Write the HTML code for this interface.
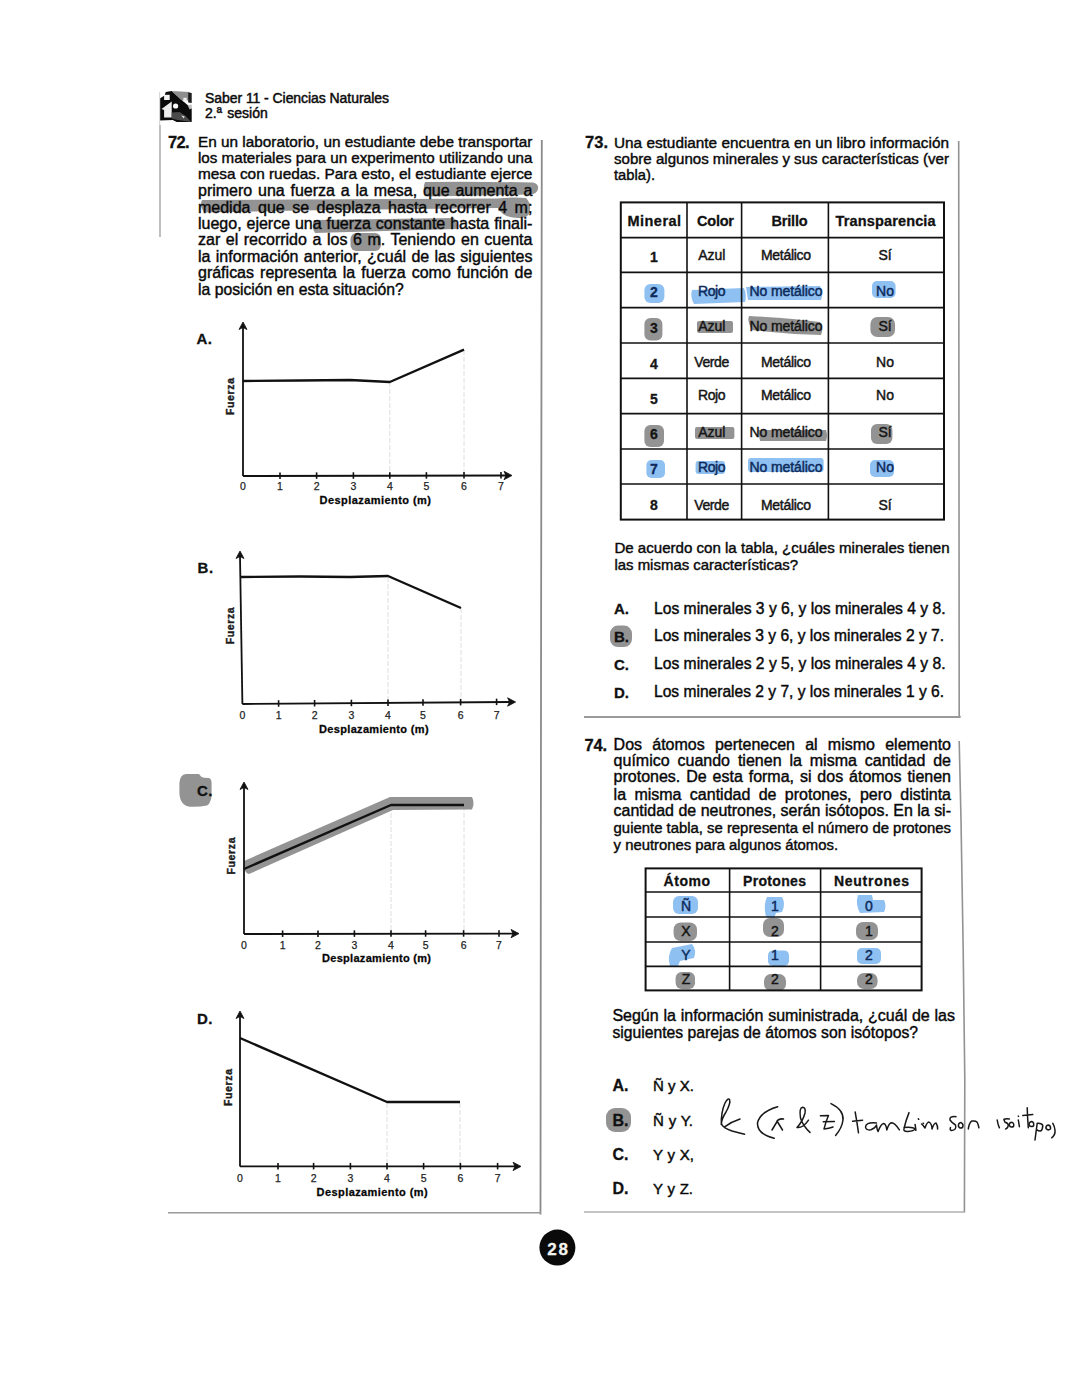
<!DOCTYPE html>
<html lang="es"><head><meta charset="utf-8"><title>Saber 11 - Ciencias Naturales</title>
<style>
html,body{margin:0;padding:0;background:#fff;}
body{width:1080px;height:1397px;overflow:hidden;}
svg{display:block;font-family:"Liberation Sans", sans-serif;}
</style></head><body>
<svg width="1080" height="1397" viewBox="0 0 1080 1397">
<rect width="1080" height="1397" fill="#fff"/>
<g transform="translate(159.7,90.4)"><path d="M0 8 L5 5 L6 1.5 L12 0.5 L22 9.5 L32 18 L32 31.5 L17 31.5 L13 29.5 L0 30 Z" fill="#0b0b0b"/><path d="M12 0.5 L30 1.5 L29 10 L21.5 9.5 Z" fill="#8e8e8e"/><path d="M28.5 2 L32 2.5 L32 12.5 L28.5 12 Z" fill="#1c1c1c"/><rect x="4.4" y="4.4" width="5.6" height="5.2" fill="#f4f4f4"/><path d="M1.8 18.5 L12 11 L12 27 L4.4 27 L4.4 19.5 Z" fill="#eeeeee"/><circle cx="15.9" cy="15.6" r="2.6" fill="#fafafa"/><rect x="23.7" y="7.4" width="3.3" height="3.7" fill="#efefef"/><path d="M28 15 L32 14 L32 18 L30 19 Z" fill="#bdbdbd"/><path d="M12 22 L20 21.5 L26 25.5 L31.5 31.5 L18 29.5 L12 28 Z" fill="#4a4a4a"/><path d="M21.5 25 L25 25.8 L24 28 Z" fill="#dddddd"/></g>
<text x="205" y="103" font-size="14" textLength="184" lengthAdjust="spacing" stroke="#1a1a1a" stroke-width="0.5">Saber 11 - Ciencias Naturales</text>
<text x="205" y="118" font-size="14" word-spacing="1.581" textLength="62.8" lengthAdjust="spacing" stroke="#1a1a1a" stroke-width="0.5">2.ª sesión</text>
<line x1="159.6" y1="92" x2="159.6" y2="125" stroke="#d8d8d8" stroke-width="1.2" />
<line x1="160" y1="125" x2="160" y2="237" stroke="#b0b0b0" stroke-width="1.6" />
<path d="M541.8 140 L541 700 L540.5 1214.5" fill="none" stroke="#8a8a8a" stroke-width="1.8" />
<line x1="168" y1="1212.8" x2="541" y2="1212.8" stroke="#9a9a9a" stroke-width="1.6" />
<path d="M958.7 141 L959.2 716.5 L960.5 716.5" fill="none" stroke="#929292" stroke-width="1.6" />
<line x1="584" y1="717" x2="960.5" y2="717" stroke="#9a9a9a" stroke-width="1.8" />
<path d="M959.2 741 L961 820 L963.2 950 L964.8 1080 L964.4 1212.5" fill="none" stroke="#929292" stroke-width="1.6" />
<line x1="584" y1="1212" x2="964.4" y2="1212" stroke="#b0b0b0" stroke-width="1.4" />
<path d="M425 182 Q480 181.5 533 182.5 Q539 184 538 189 Q537 194 530 194.5 L427 196.5 Q422 189 425 182 Z" fill="#939393" stroke="none" stroke-width="1" />
<path d="M202 200 L300 199.5 L497 198.5 Q510 197 526 198 Q531 203 530 210 Q530 218 518 218 Q503 218 498 208 L300 210.5 L204 212.5 Q199 206 202 200 Z" fill="#939393" stroke="none" stroke-width="1" />
<path d="M314 220 L454 218 Q458 223 456 229 L315 233 Q311 227 314 220 Z" fill="#939393" stroke="none" stroke-width="1" />
<rect x="350.5" y="233" width="30.5" height="18" rx="6" fill="#939393" />
<text x="168" y="147.5" font-size="16.5" font-weight="700" textLength="21.5" lengthAdjust="spacing" fill="#111" stroke="#111" stroke-width="0.3">72.</text>
<text x="198" y="147" font-size="15.34" textLength="334.4" lengthAdjust="spacing" stroke="#1a1a1a" stroke-width="0.45">En un laboratorio, un estudiante debe transportar</text>
<text x="198" y="163" font-size="15.15" textLength="334.4" lengthAdjust="spacing" stroke="#1a1a1a" stroke-width="0.45">los materiales para un experimento utilizando una</text>
<text x="198" y="179" font-size="15.39" textLength="334.4" lengthAdjust="spacing" stroke="#1a1a1a" stroke-width="0.45">mesa con ruedas. Para esto, el estudiante ejerce</text>
<text x="198" y="196" font-size="16" word-spacing="1.331" textLength="334.4" lengthAdjust="spacing" stroke="#1a1a1a" stroke-width="0.45">primero una fuerza a la mesa, que aumenta a</text>
<text x="198" y="213" font-size="16" word-spacing="3.048" textLength="334.4" lengthAdjust="spacing" stroke="#1a1a1a" stroke-width="0.45">medida que se desplaza hasta recorrer 4 m;</text>
<text x="198" y="229" font-size="16" word-spacing="0.439" textLength="334.4" lengthAdjust="spacing" stroke="#1a1a1a" stroke-width="0.45">luego, ejerce una fuerza constante hasta finali-</text>
<text x="198" y="245" font-size="16" word-spacing="1.117" textLength="334.4" lengthAdjust="spacing" stroke="#1a1a1a" stroke-width="0.45">zar el recorrido a los 6 m. Teniendo en cuenta</text>
<text x="198" y="262" font-size="16" word-spacing="0.89" textLength="334.4" lengthAdjust="spacing" stroke="#1a1a1a" stroke-width="0.45">la información anterior, ¿cuál de las siguientes</text>
<text x="198" y="278" font-size="16" word-spacing="1.629" textLength="334.4" lengthAdjust="spacing" stroke="#1a1a1a" stroke-width="0.45">gráficas representa la fuerza como función de</text>
<text x="198" y="295" font-size="15.75" textLength="205.7" lengthAdjust="spacing" stroke="#1a1a1a" stroke-width="0.45">la posición en esta situación?</text>
<line x1="389.8" y1="382" x2="389.8" y2="475" stroke="#dedede" stroke-width="1" stroke-dasharray="5 2"/>
<line x1="464" y1="350" x2="464" y2="475" stroke="#dedede" stroke-width="1" stroke-dasharray="5 2"/>
<line x1="243" y1="327" x2="243" y2="476" stroke="#111" stroke-width="1.8" />
<path d="M239 329.5 L243 322 L247 329.5 L243 327.5 Z" fill="#111" stroke="#111" stroke-width="0.8" stroke-linejoin="round"/>
<line x1="243" y1="476" x2="506" y2="475.5" stroke="#111" stroke-width="1.8" />
<path d="M504 471.3 L512 475.5 L504 479.7 L506 475.5 Z" fill="#111" stroke="#111" stroke-width="0.8" stroke-linejoin="round"/>
<line x1="280" y1="472.43122676579924" x2="280" y2="478.93122676579924" stroke="#111" stroke-width="1.6" />
<line x1="316.6" y1="472.3631970260223" x2="316.6" y2="478.8631970260223" stroke="#111" stroke-width="1.6" />
<line x1="353.4" y1="472.29479553903343" x2="353.4" y2="478.79479553903343" stroke="#111" stroke-width="1.6" />
<line x1="389.8" y1="472.2271375464684" x2="389.8" y2="478.7271375464684" stroke="#111" stroke-width="1.6" />
<line x1="426.4" y1="472.15910780669145" x2="426.4" y2="478.65910780669145" stroke="#111" stroke-width="1.6" />
<line x1="464" y1="472.08921933085503" x2="464" y2="478.58921933085503" stroke="#111" stroke-width="1.6" />
<line x1="501" y1="472.02044609665427" x2="501" y2="478.52044609665427" stroke="#111" stroke-width="1.6" />
<text x="243" y="490" font-size="10.5" text-anchor="middle" fill="#1e1e1e" stroke="#1e1e1e" stroke-width="0.25">0</text>
<text x="280" y="490" font-size="10.5" text-anchor="middle" fill="#1e1e1e" stroke="#1e1e1e" stroke-width="0.25">1</text>
<text x="316.6" y="490" font-size="10.5" text-anchor="middle" fill="#1e1e1e" stroke="#1e1e1e" stroke-width="0.25">2</text>
<text x="353.4" y="490" font-size="10.5" text-anchor="middle" fill="#1e1e1e" stroke="#1e1e1e" stroke-width="0.25">3</text>
<text x="389.8" y="490" font-size="10.5" text-anchor="middle" fill="#1e1e1e" stroke="#1e1e1e" stroke-width="0.25">4</text>
<text x="426.4" y="490" font-size="10.5" text-anchor="middle" fill="#1e1e1e" stroke="#1e1e1e" stroke-width="0.25">5</text>
<text x="464" y="490" font-size="10.5" text-anchor="middle" fill="#1e1e1e" stroke="#1e1e1e" stroke-width="0.25">6</text>
<text x="501" y="490" font-size="10.5" text-anchor="middle" fill="#1e1e1e" stroke="#1e1e1e" stroke-width="0.25">7</text>
<path d="M243 381 L300 380.5 L350 380 L389.8 382 L464 349.6" fill="none" stroke="#111" stroke-width="2.4" stroke-linejoin="round"/>
<text x="196.4" y="344" font-size="15" font-weight="700" textLength="15.5" lengthAdjust="spacing" fill="#111" stroke="#111" stroke-width="0.3">A.</text>
<text x="234" y="396.5" font-size="10.5" font-weight="700" fill="#1a1a1a" stroke="#1a1a1a" stroke-width="0.4" text-anchor="middle" textLength="37" lengthAdjust="spacing" transform="rotate(-90 234 396.5)">Fuerza</text>
<text x="319.6" y="503.6" font-size="11" font-weight="700" textLength="111.4" lengthAdjust="spacing" stroke="#1a1a1a" stroke-width="0.3">Desplazamiento (m)</text>
<line x1="388" y1="577" x2="388" y2="703" stroke="#dedede" stroke-width="1" stroke-dasharray="5 2"/>
<line x1="461" y1="608" x2="461" y2="703" stroke="#dedede" stroke-width="1" stroke-dasharray="5 2"/>
<line x1="240" y1="556" x2="242.4" y2="704" stroke="#111" stroke-width="1.8" />
<path d="M236 558.5 L240 551 L244 558.5 L240 556.5 Z" fill="#111" stroke="#111" stroke-width="0.8" stroke-linejoin="round"/>
<line x1="242.4" y1="704" x2="509.6" y2="702" stroke="#111" stroke-width="1.8" />
<path d="M507.6 697.8 L515.6 702 L507.6 706.2 L509.6 702 Z" fill="#111" stroke="#111" stroke-width="0.8" stroke-linejoin="round"/>
<line x1="278.6" y1="700.2349926793557" x2="278.6" y2="706.7349926793557" stroke="#111" stroke-width="1.6" />
<line x1="314.6" y1="699.9714494875549" x2="314.6" y2="706.4714494875549" stroke="#111" stroke-width="1.6" />
<line x1="351.4" y1="699.7020497803807" x2="351.4" y2="706.2020497803807" stroke="#111" stroke-width="1.6" />
<line x1="388" y1="699.4341142020497" x2="388" y2="705.9341142020497" stroke="#111" stroke-width="1.6" />
<line x1="423" y1="699.1778916544656" x2="423" y2="705.6778916544656" stroke="#111" stroke-width="1.6" />
<line x1="460.6" y1="698.902635431918" x2="460.6" y2="705.402635431918" stroke="#111" stroke-width="1.6" />
<line x1="496.6" y1="698.6390922401172" x2="496.6" y2="705.1390922401172" stroke="#111" stroke-width="1.6" />
<text x="242.4" y="719" font-size="10.5" text-anchor="middle" fill="#1e1e1e" stroke="#1e1e1e" stroke-width="0.25">0</text>
<text x="278.6" y="719" font-size="10.5" text-anchor="middle" fill="#1e1e1e" stroke="#1e1e1e" stroke-width="0.25">1</text>
<text x="314.6" y="719" font-size="10.5" text-anchor="middle" fill="#1e1e1e" stroke="#1e1e1e" stroke-width="0.25">2</text>
<text x="351.4" y="719" font-size="10.5" text-anchor="middle" fill="#1e1e1e" stroke="#1e1e1e" stroke-width="0.25">3</text>
<text x="388" y="719" font-size="10.5" text-anchor="middle" fill="#1e1e1e" stroke="#1e1e1e" stroke-width="0.25">4</text>
<text x="423" y="719" font-size="10.5" text-anchor="middle" fill="#1e1e1e" stroke="#1e1e1e" stroke-width="0.25">5</text>
<text x="460.6" y="719" font-size="10.5" text-anchor="middle" fill="#1e1e1e" stroke="#1e1e1e" stroke-width="0.25">6</text>
<text x="496.6" y="719" font-size="10.5" text-anchor="middle" fill="#1e1e1e" stroke="#1e1e1e" stroke-width="0.25">7</text>
<path d="M241 577 L300 576.5 L350 577 L388 576 L461 608" fill="none" stroke="#111" stroke-width="2.4" stroke-linejoin="round"/>
<text x="197.6" y="573" font-size="15" font-weight="700" textLength="15.5" lengthAdjust="spacing" fill="#111" stroke="#111" stroke-width="0.3">B.</text>
<text x="233.6" y="625.8" font-size="10.5" font-weight="700" fill="#1a1a1a" stroke="#1a1a1a" stroke-width="0.4" text-anchor="middle" textLength="37" lengthAdjust="spacing" transform="rotate(-90 233.6 625.8)">Fuerza</text>
<text x="319" y="732.6" font-size="11" font-weight="700" textLength="109.6" lengthAdjust="spacing" stroke="#1a1a1a" stroke-width="0.3">Desplazamiento (m)</text>
<line x1="391" y1="806" x2="391" y2="933" stroke="#dedede" stroke-width="1" stroke-dasharray="5 2"/>
<line x1="464" y1="806" x2="464" y2="933" stroke="#dedede" stroke-width="1" stroke-dasharray="5 2"/>
<path d="M186 774 L199 774 Q201 777.5 204 777.8 L209 778 Q212 779 211.6 785 L211.5 797 Q210 804 207 805.5 Q200 807 190 806.7 Q180 805.5 179.4 793 L179.4 783 Q180 774.5 186 774 Z" fill="#939393" stroke="none" stroke-width="1" />
<path d="M244 861 L390 797 L472 797 Q475 803 472 809.5 L393 810 L249 874 Q243 873 244 861 Z" fill="#939393" stroke="none" stroke-width="1" />
<line x1="244" y1="787" x2="244" y2="934" stroke="#111" stroke-width="1.8" />
<path d="M240 789.5 L244 782 L248 789.5 L244 787.5 Z" fill="#111" stroke="#111" stroke-width="0.8" stroke-linejoin="round"/>
<line x1="244" y1="934" x2="513" y2="933.6" stroke="#111" stroke-width="1.8" />
<path d="M511 929.4 L519 933.6 L511 937.8000000000001 L513 933.6 Z" fill="#111" stroke="#111" stroke-width="0.8" stroke-linejoin="round"/>
<line x1="282.6" y1="930.4438545454545" x2="282.6" y2="936.9438545454545" stroke="#111" stroke-width="1.6" />
<line x1="318" y1="930.3923636363636" x2="318" y2="936.8923636363636" stroke="#111" stroke-width="1.6" />
<line x1="354.4" y1="930.3394181818182" x2="354.4" y2="936.8394181818182" stroke="#111" stroke-width="1.6" />
<line x1="391" y1="930.2861818181818" x2="391" y2="936.7861818181818" stroke="#111" stroke-width="1.6" />
<line x1="425.6" y1="930.2358545454546" x2="425.6" y2="936.7358545454546" stroke="#111" stroke-width="1.6" />
<line x1="463.6" y1="930.1805818181818" x2="463.6" y2="936.6805818181818" stroke="#111" stroke-width="1.6" />
<line x1="499" y1="930.1290909090909" x2="499" y2="936.6290909090909" stroke="#111" stroke-width="1.6" />
<text x="244" y="949" font-size="10.5" text-anchor="middle" fill="#1e1e1e" stroke="#1e1e1e" stroke-width="0.25">0</text>
<text x="282.6" y="949" font-size="10.5" text-anchor="middle" fill="#1e1e1e" stroke="#1e1e1e" stroke-width="0.25">1</text>
<text x="318" y="949" font-size="10.5" text-anchor="middle" fill="#1e1e1e" stroke="#1e1e1e" stroke-width="0.25">2</text>
<text x="354.4" y="949" font-size="10.5" text-anchor="middle" fill="#1e1e1e" stroke="#1e1e1e" stroke-width="0.25">3</text>
<text x="391" y="949" font-size="10.5" text-anchor="middle" fill="#1e1e1e" stroke="#1e1e1e" stroke-width="0.25">4</text>
<text x="425.6" y="949" font-size="10.5" text-anchor="middle" fill="#1e1e1e" stroke="#1e1e1e" stroke-width="0.25">5</text>
<text x="463.6" y="949" font-size="10.5" text-anchor="middle" fill="#1e1e1e" stroke="#1e1e1e" stroke-width="0.25">6</text>
<text x="499" y="949" font-size="10.5" text-anchor="middle" fill="#1e1e1e" stroke="#1e1e1e" stroke-width="0.25">7</text>
<path d="M244 869 L391 805 L464 805" fill="none" stroke="#111" stroke-width="2.4" stroke-linejoin="round"/>
<text x="197" y="796" font-size="15" font-weight="700" textLength="15.5" lengthAdjust="spacing" fill="#111" stroke="#111" stroke-width="0.3">C.</text>
<text x="235" y="856" font-size="10.5" font-weight="700" fill="#1a1a1a" stroke="#1a1a1a" stroke-width="0.4" text-anchor="middle" textLength="37" lengthAdjust="spacing" transform="rotate(-90 235 856)">Fuerza</text>
<text x="322" y="962" font-size="11" font-weight="700" textLength="109" lengthAdjust="spacing" stroke="#1a1a1a" stroke-width="0.3">Desplazamiento (m)</text>
<line x1="387" y1="1103" x2="387" y2="1165.4" stroke="#dedede" stroke-width="1" stroke-dasharray="5 2"/>
<line x1="460" y1="1103" x2="460" y2="1165.4" stroke="#dedede" stroke-width="1" stroke-dasharray="5 2"/>
<line x1="240" y1="1016" x2="240" y2="1166.4" stroke="#111" stroke-width="1.8" />
<path d="M236 1018.5 L240 1011 L244 1018.5 L240 1016.5 Z" fill="#111" stroke="#111" stroke-width="0.8" stroke-linejoin="round"/>
<line x1="240" y1="1166.4" x2="515" y2="1166.4" stroke="#111" stroke-width="1.8" />
<path d="M513 1162.2 L521 1166.4 L513 1170.6000000000001 L515 1166.4 Z" fill="#111" stroke="#111" stroke-width="0.8" stroke-linejoin="round"/>
<line x1="278" y1="1162.9" x2="278" y2="1169.4" stroke="#111" stroke-width="1.6" />
<line x1="313.6" y1="1162.9" x2="313.6" y2="1169.4" stroke="#111" stroke-width="1.6" />
<line x1="350.4" y1="1162.9" x2="350.4" y2="1169.4" stroke="#111" stroke-width="1.6" />
<line x1="387" y1="1162.9" x2="387" y2="1169.4" stroke="#111" stroke-width="1.6" />
<line x1="423.6" y1="1162.9" x2="423.6" y2="1169.4" stroke="#111" stroke-width="1.6" />
<line x1="460.4" y1="1162.9" x2="460.4" y2="1169.4" stroke="#111" stroke-width="1.6" />
<line x1="497.6" y1="1162.9" x2="497.6" y2="1169.4" stroke="#111" stroke-width="1.6" />
<text x="240" y="1182" font-size="10.5" text-anchor="middle" fill="#1e1e1e" stroke="#1e1e1e" stroke-width="0.25">0</text>
<text x="278" y="1182" font-size="10.5" text-anchor="middle" fill="#1e1e1e" stroke="#1e1e1e" stroke-width="0.25">1</text>
<text x="313.6" y="1182" font-size="10.5" text-anchor="middle" fill="#1e1e1e" stroke="#1e1e1e" stroke-width="0.25">2</text>
<text x="350.4" y="1182" font-size="10.5" text-anchor="middle" fill="#1e1e1e" stroke="#1e1e1e" stroke-width="0.25">3</text>
<text x="387" y="1182" font-size="10.5" text-anchor="middle" fill="#1e1e1e" stroke="#1e1e1e" stroke-width="0.25">4</text>
<text x="423.6" y="1182" font-size="10.5" text-anchor="middle" fill="#1e1e1e" stroke="#1e1e1e" stroke-width="0.25">5</text>
<text x="460.4" y="1182" font-size="10.5" text-anchor="middle" fill="#1e1e1e" stroke="#1e1e1e" stroke-width="0.25">6</text>
<text x="497.6" y="1182" font-size="10.5" text-anchor="middle" fill="#1e1e1e" stroke="#1e1e1e" stroke-width="0.25">7</text>
<path d="M240 1038 L387 1102 L460 1102" fill="none" stroke="#111" stroke-width="2.4" stroke-linejoin="round"/>
<text x="197" y="1023.6" font-size="15" font-weight="700" textLength="15.5" lengthAdjust="spacing" fill="#111" stroke="#111" stroke-width="0.3">D.</text>
<text x="231.6" y="1087.5" font-size="10.5" font-weight="700" fill="#1a1a1a" stroke="#1a1a1a" stroke-width="0.4" text-anchor="middle" textLength="37" lengthAdjust="spacing" transform="rotate(-90 231.6 1087.5)">Fuerza</text>
<text x="316.6" y="1196" font-size="11" font-weight="700" textLength="111.0" lengthAdjust="spacing" stroke="#1a1a1a" stroke-width="0.3">Desplazamiento (m)</text>
<text x="585" y="148" font-size="16.5" font-weight="700" textLength="23" lengthAdjust="spacing" fill="#111" stroke="#111" stroke-width="0.3">73.</text>
<text x="614" y="147.6" font-size="15.33" textLength="335" lengthAdjust="spacing" stroke="#1a1a1a" stroke-width="0.45">Una estudiante encuentra en un libro información</text>
<text x="614" y="163.5" font-size="15.07" textLength="335" lengthAdjust="spacing" stroke="#1a1a1a" stroke-width="0.45">sobre algunos minerales y sus características (ver</text>
<text x="614" y="180" font-size="14.75" textLength="41" lengthAdjust="spacing" stroke="#1a1a1a" stroke-width="0.45">tabla).</text>
<rect x="644.4" y="284" width="20.0" height="19" rx="6" fill="#8fc0f2" />
<path d="M692 290 L744 288 Q747 295 745 302 L694 304 Q690 297 692 290 Z" fill="#8fc0f2" stroke="none" stroke-width="1" />
<path d="M746 287 L820 286 Q824 293 821 300 L748 300 Z" fill="#8fc0f2" stroke="none" stroke-width="1" />
<rect x="872" y="281" width="23.6" height="17" rx="5" fill="#8fc0f2" />
<rect x="644.4" y="318" width="18.0" height="22.4" rx="6" fill="#939393" />
<rect x="697" y="321" width="36" height="12" rx="2" fill="#939393" />
<path d="M749 316 Q790 318 820 322 Q824 328 821 335 Q785 334 752 330 Q747 322 749 316 Z" fill="#939393" stroke="none" stroke-width="1" />
<rect x="870.4" y="317" width="24.6" height="20" rx="7" fill="#939393" />
<rect x="644.4" y="425" width="19.6" height="22" rx="6" fill="#939393" />
<rect x="695" y="427" width="39.4" height="12" rx="2" fill="#939393" />
<path d="M758 430 L826 430 Q828 436 826 441 L760 441 Z" fill="#939393" stroke="none" stroke-width="1" />
<rect x="871" y="424" width="21.4" height="20" rx="6" fill="#939393" />
<rect x="646.4" y="460" width="18.6" height="18" rx="5" fill="#8fc0f2" />
<rect x="695.6" y="461" width="29.4" height="13" rx="3" fill="#8fc0f2" />
<rect x="748" y="458" width="75.6" height="14" rx="3" fill="#8fc0f2" />
<rect x="870" y="460" width="24" height="17" rx="5" fill="#8fc0f2" />
<rect x="620.8" y="202.4" width="323.20000000000005" height="317.20000000000005" fill="none" stroke="#111" stroke-width="2"/>
<line x1="687" y1="202.4" x2="687" y2="519.6" stroke="#111" stroke-width="1.6" />
<line x1="741.6" y1="202.4" x2="741.6" y2="519.6" stroke="#111" stroke-width="1.6" />
<line x1="828.4" y1="202.4" x2="828.4" y2="519.6" stroke="#111" stroke-width="1.6" />
<line x1="620.8" y1="237.6" x2="944" y2="237.6" stroke="#111" stroke-width="1.6" />
<line x1="620.8" y1="272.4" x2="944" y2="272.4" stroke="#111" stroke-width="1.6" />
<line x1="620.8" y1="307.6" x2="944" y2="307.6" stroke="#111" stroke-width="1.6" />
<line x1="620.8" y1="343" x2="944" y2="343" stroke="#111" stroke-width="1.6" />
<line x1="620.8" y1="378.4" x2="944" y2="378.4" stroke="#111" stroke-width="1.6" />
<line x1="620.8" y1="413.6" x2="944" y2="413.6" stroke="#111" stroke-width="1.6" />
<line x1="620.8" y1="449" x2="944" y2="449" stroke="#111" stroke-width="1.6" />
<line x1="620.8" y1="484" x2="944" y2="484" stroke="#111" stroke-width="1.6" />
<text x="627.6" y="225.6" font-size="14.5" font-weight="700" textLength="53.4" lengthAdjust="spacing" fill="#111" stroke="#111" stroke-width="0.3">Mineral</text>
<text x="697" y="225.6" font-size="14.5" font-weight="700" textLength="37" lengthAdjust="spacing" fill="#111" stroke="#111" stroke-width="0.3">Color</text>
<text x="771.6" y="225.6" font-size="14.5" font-weight="700" textLength="36" lengthAdjust="spacing" fill="#111" stroke="#111" stroke-width="0.3">Brillo</text>
<text x="835.6" y="225.6" font-size="14.5" font-weight="700" textLength="100" lengthAdjust="spacing" fill="#111" stroke="#111" stroke-width="0.3">Transparencia</text>
<text x="653.8" y="261.6" font-size="14" font-weight="700" text-anchor="middle" fill="#151515" stroke="#151515" stroke-width="0.3">1</text>
<text x="711.8" y="260" font-size="14" textLength="27" lengthAdjust="spacing" text-anchor="middle" fill="#151515" stroke="#151515" stroke-width="0.45">Azul</text>
<text x="786" y="260" font-size="14" textLength="50" lengthAdjust="spacing" text-anchor="middle" fill="#151515" stroke="#151515" stroke-width="0.45">Metálico</text>
<text x="885" y="260" font-size="14" text-anchor="middle" fill="#151515" stroke="#151515" stroke-width="0.45">Sí</text>
<text x="653.8" y="297" font-size="14" font-weight="700" text-anchor="middle" fill="#0d2a5a" stroke="#0d2a5a" stroke-width="0.3">2</text>
<text x="711.8" y="296" font-size="14" textLength="27.6" lengthAdjust="spacing" text-anchor="middle" fill="#0d2a5a" stroke="#0d2a5a" stroke-width="0.45">Rojo</text>
<text x="786" y="296" font-size="14" textLength="73" lengthAdjust="spacing" text-anchor="middle" fill="#0d2a5a" stroke="#0d2a5a" stroke-width="0.45">No metálico</text>
<text x="885" y="296" font-size="14" text-anchor="middle" fill="#0d2a5a" stroke="#0d2a5a" stroke-width="0.45">No</text>
<text x="653.8" y="333" font-size="14" font-weight="700" text-anchor="middle" fill="#151515" stroke="#151515" stroke-width="0.3">3</text>
<text x="711.8" y="331" font-size="14" textLength="27" lengthAdjust="spacing" text-anchor="middle" fill="#151515" stroke="#151515" stroke-width="0.45">Azul</text>
<text x="786" y="331" font-size="14" textLength="73" lengthAdjust="spacing" text-anchor="middle" fill="#151515" stroke="#151515" stroke-width="0.45">No metálico</text>
<text x="885" y="331" font-size="14" text-anchor="middle" fill="#151515" stroke="#151515" stroke-width="0.45">Sí</text>
<text x="653.8" y="369" font-size="14" font-weight="700" text-anchor="middle" fill="#151515" stroke="#151515" stroke-width="0.3">4</text>
<text x="711.8" y="367" font-size="14" textLength="35" lengthAdjust="spacing" text-anchor="middle" fill="#151515" stroke="#151515" stroke-width="0.45">Verde</text>
<text x="786" y="367" font-size="14" textLength="50" lengthAdjust="spacing" text-anchor="middle" fill="#151515" stroke="#151515" stroke-width="0.45">Metálico</text>
<text x="885" y="367" font-size="14" text-anchor="middle" fill="#151515" stroke="#151515" stroke-width="0.45">No</text>
<text x="653.8" y="404" font-size="14" font-weight="700" text-anchor="middle" fill="#151515" stroke="#151515" stroke-width="0.3">5</text>
<text x="711.8" y="400.4" font-size="14" textLength="27.6" lengthAdjust="spacing" text-anchor="middle" fill="#151515" stroke="#151515" stroke-width="0.45">Rojo</text>
<text x="786" y="400.4" font-size="14" textLength="50" lengthAdjust="spacing" text-anchor="middle" fill="#151515" stroke="#151515" stroke-width="0.45">Metálico</text>
<text x="885" y="400.4" font-size="14" text-anchor="middle" fill="#151515" stroke="#151515" stroke-width="0.45">No</text>
<text x="653.8" y="439" font-size="14" font-weight="700" text-anchor="middle" fill="#151515" stroke="#151515" stroke-width="0.3">6</text>
<text x="711.8" y="436.5" font-size="14" textLength="27" lengthAdjust="spacing" text-anchor="middle" fill="#151515" stroke="#151515" stroke-width="0.45">Azul</text>
<text x="786" y="436.5" font-size="14" textLength="73" lengthAdjust="spacing" text-anchor="middle" fill="#151515" stroke="#151515" stroke-width="0.45">No metálico</text>
<text x="885" y="436.5" font-size="14" text-anchor="middle" fill="#151515" stroke="#151515" stroke-width="0.45">Sí</text>
<text x="653.8" y="474" font-size="14" font-weight="700" text-anchor="middle" fill="#0d2a5a" stroke="#0d2a5a" stroke-width="0.3">7</text>
<text x="711.8" y="471.5" font-size="14" textLength="27.6" lengthAdjust="spacing" text-anchor="middle" fill="#0d2a5a" stroke="#0d2a5a" stroke-width="0.45">Rojo</text>
<text x="786" y="471.5" font-size="14" textLength="73" lengthAdjust="spacing" text-anchor="middle" fill="#0d2a5a" stroke="#0d2a5a" stroke-width="0.45">No metálico</text>
<text x="885" y="471.5" font-size="14" text-anchor="middle" fill="#0d2a5a" stroke="#0d2a5a" stroke-width="0.45">No</text>
<text x="653.8" y="510" font-size="14" font-weight="700" text-anchor="middle" fill="#151515" stroke="#151515" stroke-width="0.3">8</text>
<text x="711.8" y="509.5" font-size="14" textLength="35" lengthAdjust="spacing" text-anchor="middle" fill="#151515" stroke="#151515" stroke-width="0.45">Verde</text>
<text x="786" y="509.5" font-size="14" textLength="50" lengthAdjust="spacing" text-anchor="middle" fill="#151515" stroke="#151515" stroke-width="0.45">Metálico</text>
<text x="885" y="509.5" font-size="14" text-anchor="middle" fill="#151515" stroke="#151515" stroke-width="0.45">Sí</text>
<text x="614.4" y="553" font-size="15.08" textLength="335.20000000000005" lengthAdjust="spacing" stroke="#1a1a1a" stroke-width="0.45">De acuerdo con la tabla, ¿cuáles minerales tienen</text>
<text x="614.4" y="569.6" font-size="14.95" textLength="183.60000000000002" lengthAdjust="spacing" stroke="#1a1a1a" stroke-width="0.45">las mismas características?</text>
<rect x="610" y="625.6" width="22" height="21.4" rx="8" fill="#939393" />
<text x="614" y="614.2" font-size="15" font-weight="700" fill="#111" stroke="#111" stroke-width="0.3">A.</text>
<text x="654" y="613.6" font-size="15.66" textLength="291.6" lengthAdjust="spacing" stroke="#1a1a1a" stroke-width="0.45">Los minerales 3 y 6, y los minerales 4 y 8.</text>
<text x="614" y="641.6" font-size="15" font-weight="700" fill="#111" stroke="#111" stroke-width="0.3">B.</text>
<text x="654" y="641" font-size="15.58" textLength="290" lengthAdjust="spacing" stroke="#1a1a1a" stroke-width="0.45">Los minerales 3 y 6, y los minerales 2 y 7.</text>
<text x="614" y="669.6" font-size="15" font-weight="700" fill="#111" stroke="#111" stroke-width="0.3">C.</text>
<text x="654" y="669" font-size="15.66" textLength="291.6" lengthAdjust="spacing" stroke="#1a1a1a" stroke-width="0.45">Los minerales 2 y 5, y los minerales 4 y 8.</text>
<text x="614" y="697.6" font-size="15" font-weight="700" fill="#111" stroke="#111" stroke-width="0.3">D.</text>
<text x="654" y="697" font-size="15.58" textLength="290" lengthAdjust="spacing" stroke="#1a1a1a" stroke-width="0.45">Los minerales 2 y 7, y los minerales 1 y 6.</text>
<text x="584.4" y="750.5" font-size="16.5" font-weight="700" textLength="22.6" lengthAdjust="spacing" fill="#111" stroke="#111" stroke-width="0.3">74.</text>
<text x="613.6" y="750" font-size="16" word-spacing="5.761" textLength="337.4" lengthAdjust="spacing" stroke="#1a1a1a" stroke-width="0.45">Dos átomos pertenecen al mismo elemento</text>
<text x="613.6" y="766" font-size="16" word-spacing="3.46" textLength="337.4" lengthAdjust="spacing" stroke="#1a1a1a" stroke-width="0.45">químico cuando tienen la misma cantidad de</text>
<text x="613.6" y="782.4" font-size="16" word-spacing="1.446" textLength="337.4" lengthAdjust="spacing" stroke="#1a1a1a" stroke-width="0.45">protones. De esta forma, si dos átomos tienen</text>
<text x="613.6" y="799.6" font-size="16" word-spacing="3.908" textLength="337.4" lengthAdjust="spacing" stroke="#1a1a1a" stroke-width="0.45">la misma cantidad de protones, pero distinta</text>
<text x="613.6" y="816" font-size="15.97" textLength="337.4" lengthAdjust="spacing" stroke="#1a1a1a" stroke-width="0.45">cantidad de neutrones, serán isótopos. En la si-</text>
<text x="613.6" y="833" font-size="14.88" textLength="337.4" lengthAdjust="spacing" stroke="#1a1a1a" stroke-width="0.45">guiente tabla, se representa el número de protones</text>
<text x="613.6" y="849.6" font-size="14.84" textLength="224.4" lengthAdjust="spacing" stroke="#1a1a1a" stroke-width="0.45">y neutrones para algunos átomos.</text>
<rect x="673" y="896" width="25" height="18" rx="6" fill="#8fc0f2" />
<path d="M767 897 L782 897 Q786 904 782 912 L776 913 L774 918 L766 917 Q763 905 767 897 Z" fill="#8fc0f2" stroke="none" stroke-width="1" />
<path d="M858 895 L872 895 L873 900 L884 900 Q887 906 884 912 L860 913 Q855 904 858 895 Z" fill="#8fc0f2" stroke="none" stroke-width="1" />
<rect x="673.6" y="922.4" width="23.4" height="18.6" rx="7" fill="#939393" />
<rect x="763" y="918" width="21" height="19" rx="7" fill="#939393" />
<rect x="856" y="922" width="22" height="18" rx="7" fill="#939393" />
<path d="M672 948 L692 944 Q697 950 694 958 L680 961 L678 966 L670 966 Q667 956 672 948 Z" fill="#8fc0f2" stroke="none" stroke-width="1" />
<rect x="768" y="950.4" width="21" height="15.6" rx="5" fill="#8fc0f2" />
<rect x="857" y="948" width="24" height="16" rx="5" fill="#8fc0f2" />
<rect x="675.6" y="972" width="19.4" height="17" rx="6" fill="#939393" />
<rect x="764" y="974" width="22" height="17" rx="7" fill="#939393" />
<rect x="857" y="973" width="20.6" height="16" rx="7" fill="#939393" />
<rect x="645.6" y="868.4" width="276.0" height="122.0" fill="none" stroke="#111" stroke-width="2"/>
<line x1="729.6" y1="868.4" x2="729.6" y2="990.4" stroke="#111" stroke-width="1.6" />
<line x1="820.6" y1="868.4" x2="820.6" y2="990.4" stroke="#111" stroke-width="1.6" />
<line x1="645.6" y1="892" x2="921.6" y2="892" stroke="#111" stroke-width="1.6" />
<line x1="645.6" y1="917" x2="921.6" y2="917" stroke="#111" stroke-width="1.6" />
<line x1="645.6" y1="942" x2="921.6" y2="942" stroke="#111" stroke-width="1.6" />
<line x1="645.6" y1="966.4" x2="921.6" y2="966.4" stroke="#111" stroke-width="1.6" />
<text x="663.6" y="886.4" font-size="14" font-weight="700" textLength="46.4" lengthAdjust="spacing" fill="#111" stroke="#111" stroke-width="0.3">Átomo</text>
<text x="743" y="886.4" font-size="14" font-weight="700" textLength="63" lengthAdjust="spacing" fill="#111" stroke="#111" stroke-width="0.3">Protones</text>
<text x="834" y="886.4" font-size="14" font-weight="700" textLength="75" lengthAdjust="spacing" fill="#111" stroke="#111" stroke-width="0.3">Neutrones</text>
<text x="686" y="911" font-size="14" text-anchor="middle" fill="#0d2a5a" stroke="#0d2a5a" stroke-width="0.45">Ñ</text>
<text x="775" y="911" font-size="14" text-anchor="middle" fill="#0d2a5a" stroke="#0d2a5a" stroke-width="0.45">1</text>
<text x="869" y="911" font-size="14" text-anchor="middle" fill="#0d2a5a" stroke="#0d2a5a" stroke-width="0.45">0</text>
<text x="686" y="936" font-size="14" text-anchor="middle" fill="#151515" stroke="#151515" stroke-width="0.45">X</text>
<text x="775" y="936" font-size="14" text-anchor="middle" fill="#151515" stroke="#151515" stroke-width="0.45">2</text>
<text x="869" y="936" font-size="14" text-anchor="middle" fill="#151515" stroke="#151515" stroke-width="0.45">1</text>
<text x="686" y="960" font-size="14" text-anchor="middle" fill="#0d2a5a" stroke="#0d2a5a" stroke-width="0.45">Y</text>
<text x="775" y="960" font-size="14" text-anchor="middle" fill="#0d2a5a" stroke="#0d2a5a" stroke-width="0.45">1</text>
<text x="869" y="960" font-size="14" text-anchor="middle" fill="#0d2a5a" stroke="#0d2a5a" stroke-width="0.45">2</text>
<text x="686" y="984" font-size="14" text-anchor="middle" fill="#151515" stroke="#151515" stroke-width="0.45">Z</text>
<text x="775" y="984" font-size="14" text-anchor="middle" fill="#151515" stroke="#151515" stroke-width="0.45">2</text>
<text x="869" y="984" font-size="14" text-anchor="middle" fill="#151515" stroke="#151515" stroke-width="0.45">2</text>
<text x="612.4" y="1021" font-size="16" word-spacing="0.329" textLength="342.6" lengthAdjust="spacing" stroke="#1a1a1a" stroke-width="0.45">Según la información suministrada, ¿cuál de las</text>
<text x="612.4" y="1038" font-size="15.71" textLength="305.6" lengthAdjust="spacing" stroke="#1a1a1a" stroke-width="0.45">siguientes parejas de átomos son isótopos?</text>
<rect x="606" y="1108" width="25" height="24" rx="9" fill="#939393" />
<text x="612.5" y="1091" font-size="16" font-weight="700" fill="#111" stroke="#111" stroke-width="0.3">A.</text>
<text x="653" y="1091" font-size="15" word-spacing="0.078" textLength="41" lengthAdjust="spacing" stroke="#1a1a1a" stroke-width="0.45">Ñ y X.</text>
<text x="612.5" y="1125.6" font-size="16" font-weight="700" fill="#111" stroke="#111" stroke-width="0.3">B.</text>
<text x="653" y="1125.6" font-size="15" word-spacing="0.68" textLength="40" lengthAdjust="spacing" stroke="#1a1a1a" stroke-width="0.45">Ñ y Y.</text>
<text x="612.5" y="1159.6" font-size="16" font-weight="700" fill="#111" stroke="#111" stroke-width="0.3">C.</text>
<text x="653" y="1159.6" font-size="15" word-spacing="0.625" textLength="41" lengthAdjust="spacing" stroke="#1a1a1a" stroke-width="0.45">Y y X,</text>
<text x="612.5" y="1193.6" font-size="16" font-weight="700" fill="#111" stroke="#111" stroke-width="0.3">D.</text>
<text x="653" y="1193.6" font-size="15" word-spacing="0.547" textLength="40" lengthAdjust="spacing" stroke="#1a1a1a" stroke-width="0.45">Y y Z.</text>
<path d="M721.3 1124.6 Q721 1112 725 1103 Q728 1097.5 729.5 1099.5 Q731 1103 726 1112 Q721 1120 721.5 1124 Q723 1128 732 1131 Q739 1133 744.6 1134.2" fill="none" stroke="#181818" stroke-width="1.5" stroke-linecap="round" stroke-linejoin="round"/>
<path d="M724.6 1126.8 Q731 1122 740 1119" fill="none" stroke="#181818" stroke-width="1.5" stroke-linecap="round" stroke-linejoin="round"/>
<path d="M777.6 1106.8 Q760 1112 757.5 1123 Q757 1134 774.2 1138.3" fill="none" stroke="#181818" stroke-width="1.5" stroke-linecap="round" stroke-linejoin="round"/>
<path d="M772 1130 L778 1120 Q781 1118.5 783.5 1119 M777 1121 L782.5 1130" fill="none" stroke="#181818" stroke-width="1.5" stroke-linecap="round" stroke-linejoin="round"/>
<path d="M810 1132.4 Q803 1126 800.5 1118 Q799 1108 802.5 1107.3 Q806 1107.5 805 1113 Q803 1121 797 1127.5 Q800 1128 803 1126 Q806 1124 808.5 1120.2" fill="none" stroke="#181818" stroke-width="1.5" stroke-linecap="round" stroke-linejoin="round"/>
<path d="M820.4 1115.8 L828.5 1115.5 Q826 1121 824 1129 Q829 1128.5 833 1127 M823.3 1121.7 L834.4 1121.5" fill="none" stroke="#181818" stroke-width="1.5" stroke-linecap="round" stroke-linejoin="round"/>
<path d="M831 1103.6 Q844 1110 843 1120 Q842 1128 835.6 1135.4" fill="none" stroke="#181818" stroke-width="1.5" stroke-linecap="round" stroke-linejoin="round"/>
<path d="M855.2 1112.1 Q857 1122 858.5 1132.8 M852.6 1121.3 L862.6 1120.2" fill="none" stroke="#181818" stroke-width="1.5" stroke-linecap="round" stroke-linejoin="round"/>
<path d="M876.5 1123 Q866 1122 865.5 1127 Q866 1130.5 871 1129.8 Q875 1128.5 876.5 1125 Q877 1130 878.1 1131.5 Q881 1124 883.6 1123.6 Q886 1124 886.8 1129.9 Q889 1123 891.5 1122.8 Q895 1123 899.4 1129.9" fill="none" stroke="#181818" stroke-width="1.5" stroke-linecap="round" stroke-linejoin="round"/>
<path d="M909 1112.6 Q906 1120 904 1128.5 Q903 1131.8 908 1131.5 Q914 1131 915 1129 Q913 1126.5 904 1127.5" fill="none" stroke="#181818" stroke-width="1.5" stroke-linecap="round" stroke-linejoin="round"/>
<path d="M915.1 1124.4 L915.9 1130.3" fill="none" stroke="#181818" stroke-width="1.5" stroke-linecap="round" stroke-linejoin="round"/>
<path d="M918.3 1118.9 L918.8 1119.3" fill="none" stroke="#181818" stroke-width="1.5" stroke-linecap="round" stroke-linejoin="round"/>
<path d="M923 1123.2 L923.5 1123.5" fill="none" stroke="#181818" stroke-width="1.5" stroke-linecap="round" stroke-linejoin="round"/>
<path d="M921.5 1124 Q923 1125 925 1128 Q927 1122 929 1122 Q932 1124 932 1129 Q934 1123 936 1123 Q938 1126 937.6 1129.1" fill="none" stroke="#181818" stroke-width="1.5" stroke-linecap="round" stroke-linejoin="round"/>
<path d="M956 1116.7 Q949 1116 950 1120 Q952 1123 955.5 1125 Q957 1130 951.5 1130.6 Q949.5 1130 950.5 1127.5" fill="none" stroke="#181818" stroke-width="1.5" stroke-linecap="round" stroke-linejoin="round"/>
<path d="M961 1122.6 Q958 1123 958.5 1126.5 Q960 1129 962.5 1127.5 Q964 1124 961 1122.6" fill="none" stroke="#181818" stroke-width="1.5" stroke-linecap="round" stroke-linejoin="round"/>
<path d="M968.3 1128.9 Q969 1123 971.7 1121.1 Q975.5 1120.5 977.2 1122.2 Q978.5 1125 978.9 1127.8" fill="none" stroke="#181818" stroke-width="1.5" stroke-linecap="round" stroke-linejoin="round"/>
<path d="M997.2 1120 Q997.8 1124.5 999.4 1127.8" fill="none" stroke="#181818" stroke-width="1.5" stroke-linecap="round" stroke-linejoin="round"/>
<path d="M1009.4 1118.9 Q1005 1118.5 1003.9 1119.4 L1005 1122.2 Q1008 1123 1008.3 1125 Q1008 1128.5 1005.6 1128.9" fill="none" stroke="#181818" stroke-width="1.5" stroke-linecap="round" stroke-linejoin="round"/>
<path d="M1011.7 1122.3 Q1009 1122.5 1009.3 1125.5 Q1011 1128 1013.5 1126.5 Q1014.5 1123 1011.7 1122.3" fill="none" stroke="#181818" stroke-width="1.5" stroke-linecap="round" stroke-linejoin="round"/>
<path d="M1018.3 1120 L1019.4 1126.7 M1018.3 1116.1 L1018.5 1116.4" fill="none" stroke="#181818" stroke-width="1.5" stroke-linecap="round" stroke-linejoin="round"/>
<path d="M1027.2 1107.8 Q1027.5 1118 1028.3 1127.8 M1022.8 1115.6 L1032.8 1114.4" fill="none" stroke="#181818" stroke-width="1.5" stroke-linecap="round" stroke-linejoin="round"/>
<path d="M1031.7 1121.5 Q1028.8 1122 1029 1125 Q1030.5 1127.5 1033.5 1126 Q1034.5 1122.5 1031.7 1121.5" fill="none" stroke="#181818" stroke-width="1.5" stroke-linecap="round" stroke-linejoin="round"/>
<path d="M1037.2 1123.3 Q1036 1132 1035 1140 M1037.2 1123.3 Q1042 1123 1042.8 1125.6 Q1042.5 1130 1040.6 1131.1 Q1038 1131 1037.2 1130" fill="none" stroke="#181818" stroke-width="1.5" stroke-linecap="round" stroke-linejoin="round"/>
<path d="M1048.3 1125 Q1045.5 1125.5 1046 1128.5 Q1048 1131 1050.5 1129 Q1051 1125.5 1048.3 1125" fill="none" stroke="#181818" stroke-width="1.5" stroke-linecap="round" stroke-linejoin="round"/>
<path d="M1052.8 1123.3 Q1054.5 1126 1055 1130 Q1055.5 1135 1051.7 1137.8" fill="none" stroke="#181818" stroke-width="1.5" stroke-linecap="round" stroke-linejoin="round"/>
<circle cx="557.4" cy="1247.6" r="18" fill="#0a0a0a"/>
<text x="557.6" y="1254.8" font-size="17" font-weight="700" textLength="20.5" lengthAdjust="spacing" text-anchor="middle" fill="#f4f4ee" stroke="#f4f4ee" stroke-width="0.3">28</text>
</svg>
</body></html>
